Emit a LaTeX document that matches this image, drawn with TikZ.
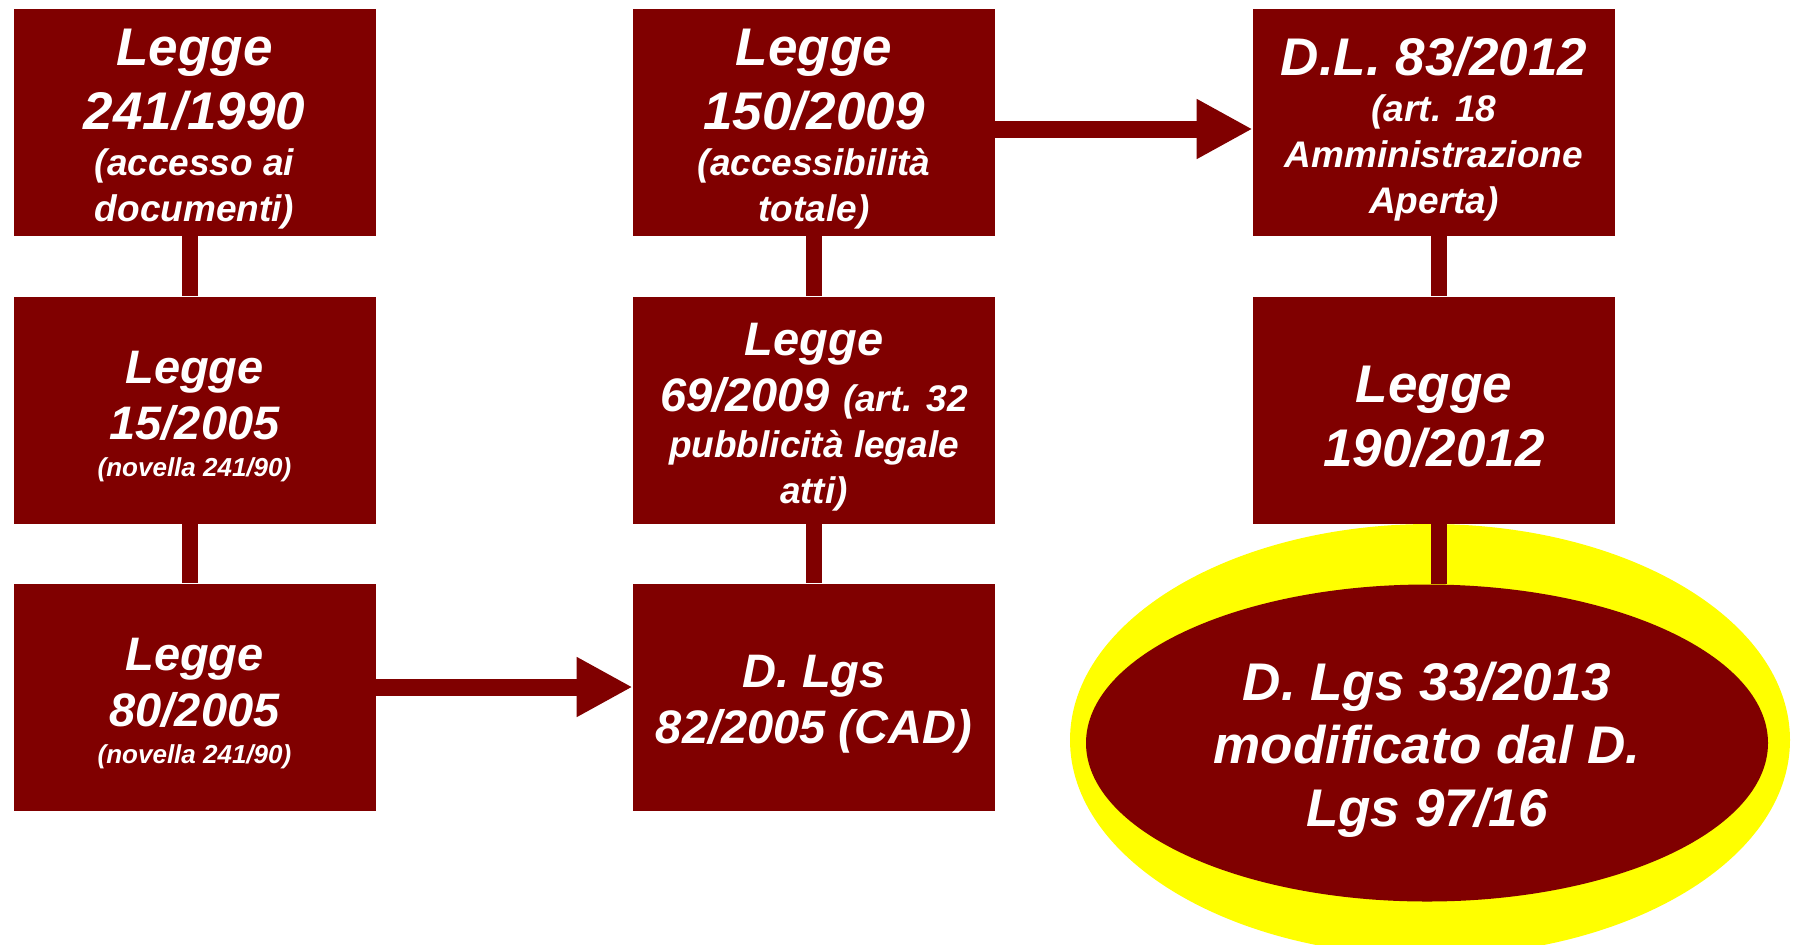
\documentclass[tikz,border=0pt]{standalone}
\usepackage{fontspec}
\setmainfont{Liberation Sans}
\usetikzlibrary{arrows.meta,shapes.geometric}
\definecolor{dred}{RGB}{128,0,0}
\definecolor{yel}{RGB}{255,255,0}
\newcommand{\tx}[2][180pt]{\parbox{#1}{\vspace*{7pt}\centering #2\par}}
\newcommand{\fM}{\fontsize{26.5}{32}\selectfont}
\newcommand{\fN}{\fontsize{23.5}{28}\selectfont}
\newcommand{\fS}{\fontsize{18.5}{23}\selectfont}
\newcommand{\fT}{\fontsize{13}{18.5}\selectfont}
\tikzset{
  box/.style={rectangle, fill=dred, minimum width=181pt, minimum height=113.5pt,
    inner sep=0pt, text=white, font=\bfseries\itshape},
  conn/.style={draw=dred, line width=8pt},
  arr/.style={draw=dred, line width=8.5pt, -{Triangle[length=28pt,width=28pt]}},
}
\begin{document}
\begin{tikzpicture}[x=0.5pt,y=-0.5pt]
\useasboundingbox (0,0) rectangle (1793,944);
\clip (0,0) rectangle (1793,944);
% ellipses
\node[ellipse, fill=yel, minimum width=360pt, minimum height=216pt, inner sep=0pt] (ye) at (1430,740) {};
\node[ellipse, fill=dred, minimum width=341pt, minimum height=158.5pt, inner sep=0pt, text=white, font=\bfseries\itshape] (e) at (1427,743)
  {\tx[220pt]{\fontsize{26.5}{31.5}\selectfont D. Lgs 33/2013\par modificato dal D.\par Lgs 97/16}};
% column 1
\node[box] (b1) at (194.5,122.5) {\tx{\fM Legge\par 241/1990\par \fS (accesso ai\par documenti)}};
\node[box] (b2) at (194.5,410) {\tx{\fN Legge\par 15/2005\par \fT (novella 241/90)}};
\node[box] (b3) at (194.5,697) {\tx{\fN Legge\par 80/2005\par \fT (novella 241/90)}};
% column 2
\node[box] (b4) at (814,122.5) {\tx{\fM Legge\par 150/2009\par \fS (accessibilità\par totale)}};
\node[box] (b5) at (814,410) {\tx{\fN Legge\par 69/2009 {\fS (art. 32}\par \fS pubblicità legale\par atti)}};
\node[box] (b6) at (814,697) {\tx{\fN D. Lgs\par 82/2005 (CAD)}};
% column 3
\node[box] (b7) at (1434,122.5) {\tx{\fM D.L. 83/2012\par \fS (art. 18\par Amministrazione\par Aperta)}};
\node[box] (b8) at (1434,410) {\tx{\fM Legge\par 190/2012}};
% vertical connectors
\draw[conn] ([xshift=-2.5pt]b1.south) -- ([xshift=-2.5pt]b2.north);
\draw[conn] ([xshift=-2.5pt]b2.south) -- ([xshift=-2.5pt]b3.north);
\draw[conn] (b4.south) -- (b5.north);
\draw[conn] (b5.south) -- (b6.north);
\draw[conn] ([xshift=2.25pt]b7.south) -- ([xshift=2.25pt]b8.north);
\draw[conn] ([xshift=2.25pt]b8.south) -- ([xshift=2.25pt]b8.south |- e.north);
% arrows
\draw[arr] ([yshift=5pt]b3.east) -- ([yshift=5pt]b6.west);
\draw[arr] ([yshift=-3.25pt]b4.east) -- ([yshift=-3.25pt]b7.west);
\end{tikzpicture}
\end{document}
